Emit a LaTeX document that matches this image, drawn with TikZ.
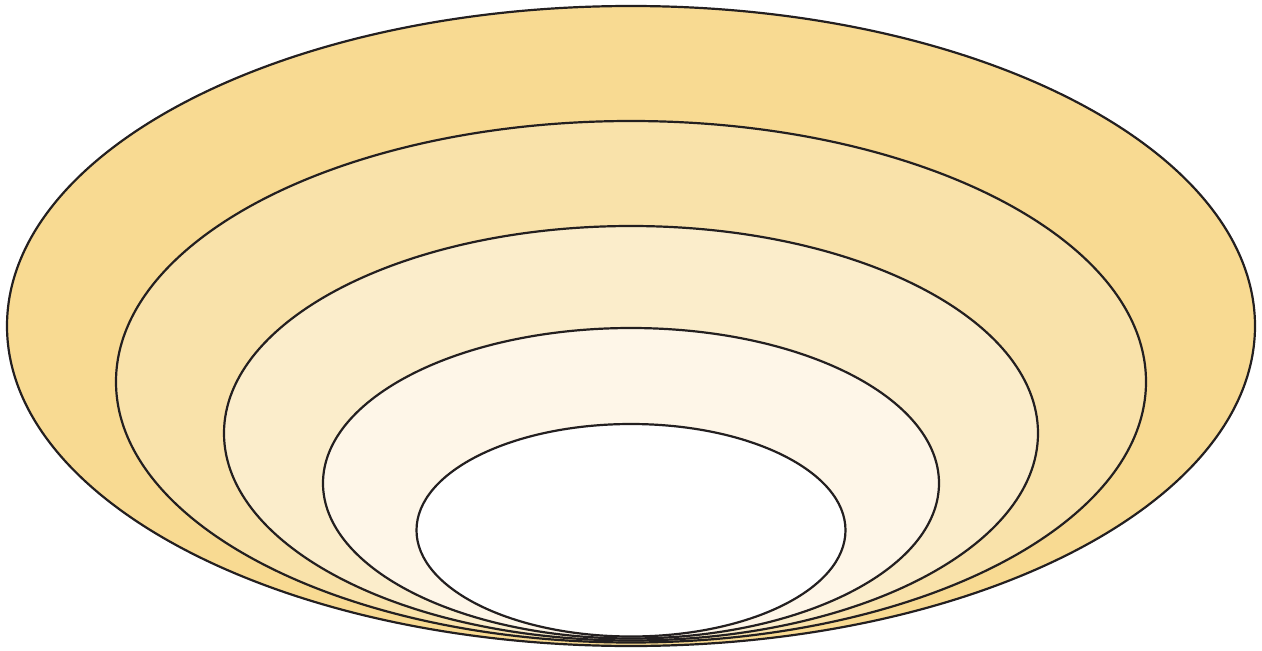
\documentclass[tikz,border=0pt]{standalone}
\usepackage{tikz}
\definecolor{ringA}{HTML}{F8DA92}
\definecolor{ringB}{HTML}{F9E2AA}
\definecolor{ringC}{HTML}{FBEDCB}
\definecolor{ringD}{HTML}{FEF6E8}
\definecolor{rimline}{HTML}{231F20}
\tikzset{ring/.style={draw=rimline, line width=2.2pt}}
\begin{document}
\begin{tikzpicture}[x=1pt, y=-1pt]
            \useasboundingbox (0,0) rectangle (1262,651);
            % nested bowls, all touching at the bottom
            \foreach \cy/\rx/\ry/\col in {326/624/320/ringA, 381.75/515/260.75/ringB, 433.25/407/207.25/ringC, 483.25/308/155.25/ringD, 530.25/214.5/106.25/white}{
                \draw[ring, fill=\col] (631,\cy) ellipse [x radius=\rx, y radius=\ry];
            }
        \end{tikzpicture}
\end{document}
